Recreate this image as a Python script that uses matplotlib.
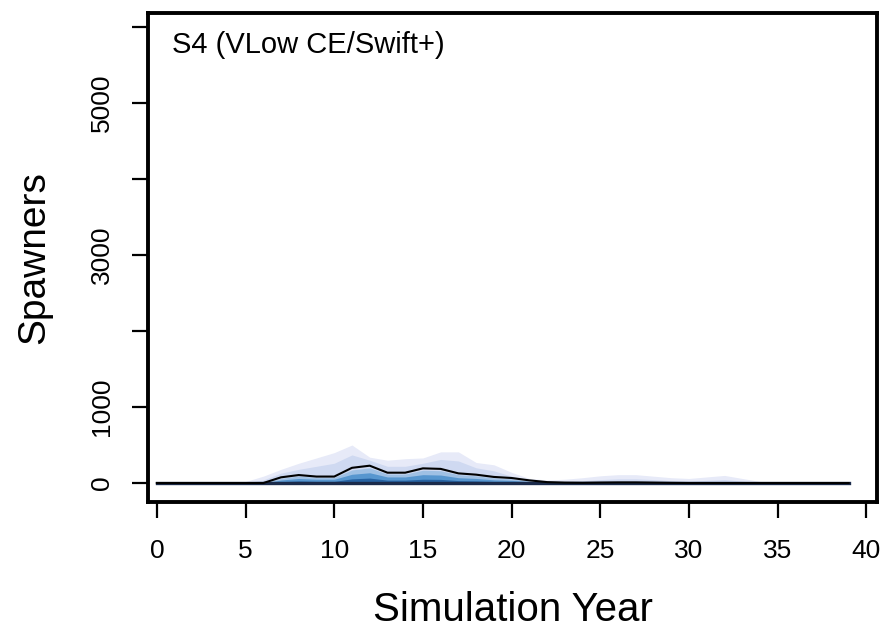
import numpy as np
import matplotlib
matplotlib.use("Agg")
import matplotlib.pyplot as plt

plt.rcParams['font.family'] = ['Liberation Sans', 'DejaVu Sans']

# simulation years and spawner quantiles across runs
years = np.arange(40)
median = [0, 0, 0, 0, 0, 0, 0, 75, 105, 85, 85, 200, 228, 136, 136, 193, 186, 127, 110, 80,
          66, 35, 12, 5, 3, 6, 8, 8, 5, 2, 0, 0, 0, 0, 0, 0, 0, 0, 0, 0]
q95 = [0, 0, 0, 0, 0, 20, 90, 180, 260, 330, 400, 500, 340, 300, 320, 330, 410, 410, 270, 240,
       140, 60, 40, 50, 70, 95, 110, 110, 90, 70, 60, 80, 100, 60, 20, 0, 0, 0, 0, 0]
q90 = [0, 0, 0, 0, 0, 5, 40, 130, 180, 220, 260, 370, 300, 220, 220, 260, 310, 290, 200, 160,
       90, 40, 20, 20, 30, 45, 55, 55, 45, 30, 25, 35, 45, 25, 5, 0, 0, 0, 0, 0]
q75 = [0, 0, 0, 0, 0, 0, 5, 62, 92, 74, 74, 172, 200, 118, 118, 168, 162, 110, 95, 68,
       56, 28, 9, 4, 3, 5, 7, 7, 4, 2, 0, 0, 0, 0, 0, 0, 0, 0, 0, 0]
q60 = [0, 0, 0, 0, 0, 0, 0, 40, 60, 50, 50, 115, 135, 80, 80, 110, 105, 70, 60, 42,
       35, 18, 6, 3, 2, 3, 4, 4, 2, 1, 0, 0, 0, 0, 0, 0, 0, 0, 0, 0]
q40 = [0, 0, 0, 0, 0, 0, 0, 18, 28, 22, 22, 55, 65, 38, 38, 50, 48, 32, 28, 20,
       16, 8, 3, 1, 1, 1, 2, 2, 1, 0, 0, 0, 0, 0, 0, 0, 0, 0, 0, 0]
q05 = [0] * 40

band_tops = [q95, q90, q75, q60, q40]
band_cols = ['#e7eaf8', '#cfd9f1', '#9fc0e4', '#5796cf', '#2763a3']

y_ticks = [0, 1000, 2000, 3000, 4000, 5000, 6000]
y_tick_labels = ['0', '1000', '', '3000', '', '5000', '']
x_ticks = [0, 5, 10, 15, 20, 25, 30, 35, 40]

fig = plt.figure(figsize=(8.85, 6.31), dpi=100)
ax = fig.add_axes([0.1672, 0.2044, 0.8238, 0.775])

for top, col in zip(band_tops, band_cols):
    ax.fill_between(years, q05, top, color=col, linewidth=0)

ax.plot(years, q05, color='#1b2b4b', linewidth=2.4)
ax.plot(years, median, color='black', linewidth=1.5)

ax.set_xlim(-0.5, 40.6)
ax.set_ylim(-250, 6184)
ax.set_xticks(x_ticks)
ax.set_yticks(y_ticks)
ax.set_yticklabels(y_tick_labels, rotation=90, va='center')

for s in ax.spines.values():
    s.set_linewidth(2.8)
ax.tick_params(axis='both', direction='out', length=11.5, width=1.6, labelsize=19)
ax.tick_params(axis='x', pad=15)
ax.tick_params(axis='y', pad=13)

ax.set_xlabel('Simulation Year', fontsize=29, labelpad=20)
ax.set_ylabel('Spawners', fontsize=28, labelpad=27)
ax.text(0.033, 0.934, 'S4 (VLow CE/Swift+)', transform=ax.transAxes,
        fontsize=21, ha='left', va='center')

fig.savefig('out.png', dpi=100)
